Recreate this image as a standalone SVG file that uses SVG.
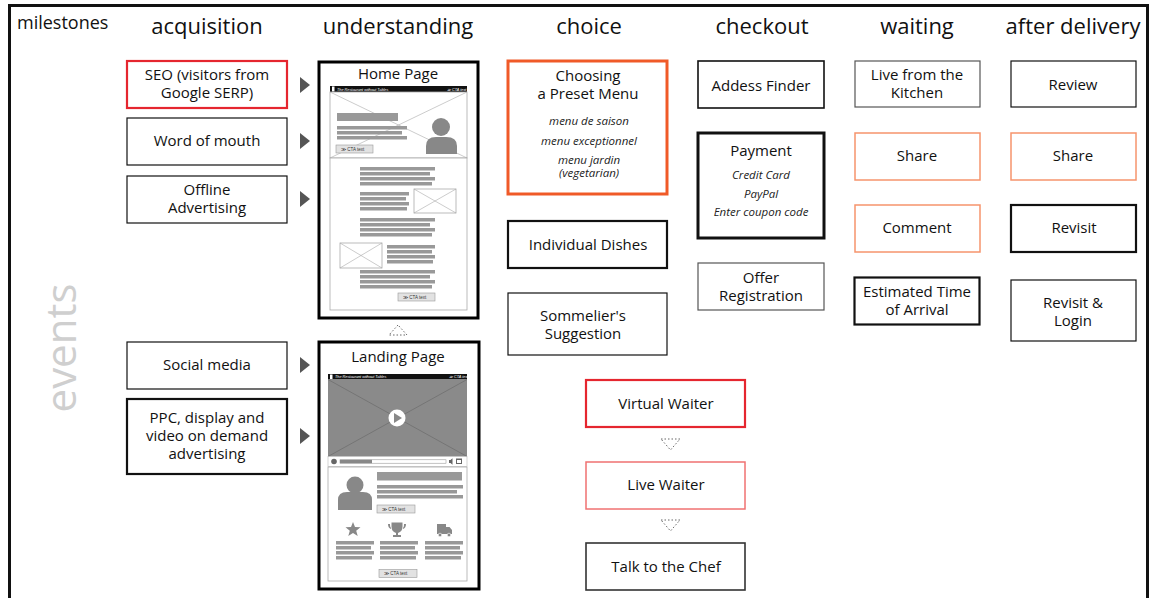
<svg xmlns="http://www.w3.org/2000/svg" width="1150" height="598" viewBox="0 0 1150 598">
  <defs>
    <style>
      text { font-family: "Open Sans", "Liberation Sans", sans-serif; fill: #111; }
      .t { font-size: 15px; text-anchor: middle; }
      .hd { font-size: 22px; text-anchor: middle; }
      .it { font-size: 11.5px; font-style: italic; text-anchor: middle; fill: #222; }
      .box { fill: #fff; stroke: #111; stroke-width: 1.2; }
      .thick { stroke-width: 2.2; }
      .frame { fill: #fff; stroke: #000; stroke-width: 3; }
      .red { stroke: #e5262f; stroke-width: 2.2; }
      .lred { stroke: #f07272; stroke-width: 1.5; }
      .orange { stroke: #f05a28; stroke-width: 3; }
      .lorange { stroke: #f6946c; stroke-width: 1.5; }
      .grey { stroke: #555; stroke-width: 1.2; }
      .arrow { fill: #555; }
      .bar { fill: #999; }
      .wf { fill: #fff; stroke: #aaa; stroke-width: 0.8; }
      .cross { stroke: #aaa; stroke-width: 0.6; }
      .cta { fill: #e2e2e2; stroke: #999; stroke-width: 0.6; }
      .ctat { font-size: 4.5px; fill: #333; font-family: "Liberation Sans", sans-serif; }
      .tiny { font-size: 3.8px; fill: #fff; font-family: "Liberation Sans", sans-serif; font-style: italic; }
      .ico { fill: #888; }
      .dtri { fill: none; stroke: #555; stroke-width: 0.9; stroke-dasharray: 1.5 2; }
    </style>
  </defs>

  <rect width="1150" height="598" fill="#fff"/>
  <!-- outer frame -->
  <rect x="9.5" y="5.5" width="1138" height="700" fill="none" stroke="#111" stroke-width="3"/>

  <!-- headers -->
  <g id="headers">
    <text x="17" y="29" style="font-size:18px">milestones</text>
    <text class="hd" x="207" y="34">acquisition</text>
    <text class="hd" x="398" y="34">understanding</text>
    <text class="hd" x="589" y="34">choice</text>
    <text class="hd" x="762" y="34">checkout</text>
    <text class="hd" x="917" y="34">waiting</text>
    <text class="hd" x="1073" y="34">after delivery</text>
    <text transform="translate(76 348) rotate(-90)" style="font-size:42px;fill:#cfcfcf;text-anchor:middle">events</text>
  </g>

  <!-- acquisition -->
  <g id="seo"><rect class="box red" x="127" y="61" width="160" height="47"/>
    <text class="t" x="207" y="80">SEO (visitors from</text><text class="t" x="207" y="98">Google SERP)</text></g>
  <g id="word-of-mouth"><rect class="box" x="127" y="118" width="160" height="47"/>
    <text class="t" x="207" y="146">Word of mouth</text></g>
  <g id="offline-advertising"><rect class="box" x="127" y="176" width="160" height="47"/>
    <text class="t" x="207" y="195">Offline</text><text class="t" x="207" y="213">Advertising</text></g>
  <g id="social-media"><rect class="box" x="127" y="342" width="160" height="47"/>
    <text class="t" x="207" y="370">Social media</text></g>
  <g id="ppc"><rect class="box thick" x="127" y="399" width="160" height="75"/>
    <text class="t" x="207" y="423">PPC, display and</text><text class="t" x="207" y="441">video on demand</text><text class="t" x="207" y="459">advertising</text></g>

  <!-- connectors -->
  <g id="connectors">
    <polygon class="arrow" points="300,77 310,85 300,93"/>
    <polygon class="arrow" points="300,133 310,141 300,149"/>
    <polygon class="arrow" points="300,191 310,199 300,207"/>
    <polygon class="arrow" points="300,357 310,365 300,373"/>
    <polygon class="arrow" points="300,428 310,436 300,444"/>
    <polygon class="dtri" points="398,325 389,335 407,335"/>
    <polygon class="dtri" points="661,439 680,439 670.5,450"/>
    <polygon class="dtri" points="661,520 680,520 670.5,531"/>
  </g>

  <!-- Home page wireframe -->
  <g id="home-page">
    <rect class="frame" x="319" y="62" width="159" height="256"/>
    <text class="t" x="398" y="79">Home Page</text>
    <rect x="330" y="86" width="137" height="6" fill="#111"/>
    <rect x="332" y="86.5" width="2.5" height="5" fill="#fff"/>
    <text class="tiny" x="337" y="90.5">The Restaurant without Tables</text>
    <text class="tiny" x="447" y="90.5">≫ CTA text</text>
    <rect class="wf" x="330" y="92" width="137" height="66"/>
    <line class="cross" x1="330" y1="92" x2="467" y2="158"/>
    <line class="cross" x1="330" y1="158" x2="467" y2="92"/>
    <rect class="bar" x="337" y="113" width="61" height="8"/>
    <rect class="bar" x="337" y="126" width="70" height="3.5"/>
    <rect class="bar" x="337" y="131" width="65" height="3.5"/>
    <rect class="bar" x="337" y="136" width="70" height="3.5"/>
    <rect class="cta" x="336" y="145" width="37" height="8"/>
    <text class="ctat" x="341" y="150.5">≫ CTA text</text>
    <circle class="ico" cx="441" cy="127" r="9"/>
    <path class="ico" d="M426 154 V146 Q426 137 436 137 H446 Q457 137 457 146 V154 Z"/>
    <rect class="wf" x="330" y="158" width="137" height="152"/>
    <rect class="bar" x="360" y="167" width="75" height="3.5"/>
    <rect class="bar" x="360" y="172" width="70" height="3.5"/>
    <rect class="bar" x="360" y="177" width="75" height="3.5"/>
    <rect class="bar" x="360" y="182" width="72" height="3.5"/>
    <rect class="bar" x="360" y="192" width="49" height="3.5"/>
    <rect class="bar" x="360" y="197" width="46" height="3.5"/>
    <rect class="bar" x="360" y="202" width="49" height="3.5"/>
    <rect class="bar" x="360" y="207" width="47" height="3.5"/>
    <rect class="wf" x="414" y="189" width="42" height="24"/>
    <line class="cross" x1="414" y1="189" x2="456" y2="213"/>
    <line class="cross" x1="414" y1="213" x2="456" y2="189"/>
    <rect class="bar" x="360" y="218" width="75" height="3.5"/>
    <rect class="bar" x="360" y="223" width="70" height="3.5"/>
    <rect class="bar" x="360" y="228" width="75" height="3.5"/>
    <rect class="bar" x="360" y="233" width="72" height="3.5"/>
    <rect class="wf" x="340" y="243" width="42" height="25"/>
    <line class="cross" x1="340" y1="243" x2="382" y2="268"/>
    <line class="cross" x1="340" y1="268" x2="382" y2="243"/>
    <rect class="bar" x="387" y="245" width="48" height="3.5"/>
    <rect class="bar" x="387" y="250" width="45" height="3.5"/>
    <rect class="bar" x="387" y="255" width="48" height="3.5"/>
    <rect class="bar" x="387" y="260" width="46" height="3.5"/>
    <rect class="bar" x="360" y="270" width="75" height="3.5"/>
    <rect class="bar" x="360" y="275" width="70" height="3.5"/>
    <rect class="bar" x="360" y="280" width="75" height="3.5"/>
    <rect class="bar" x="360" y="285" width="72" height="3.5"/>
    <rect class="cta" x="398" y="293" width="37" height="8"/>
    <text class="ctat" x="403" y="298.5">≫ CTA text</text>
  </g>

  <!-- Landing page wireframe -->
  <g id="landing-page">
    <rect class="frame" x="319" y="342" width="160" height="247"/>
    <text class="t" x="398" y="362">Landing Page</text>
    <rect x="328" y="374" width="139" height="5.5" fill="#111"/>
    <rect x="330" y="374.5" width="2.5" height="4.5" fill="#fff"/>
    <text class="tiny" x="335" y="378.3">The Restaurant without Tables</text>
    <text class="tiny" x="449" y="378.3">≫ CTA text</text>
    <rect x="328" y="379.5" width="139" height="77" fill="#8a8a8a"/>
    <line x1="328" y1="379.5" x2="467" y2="456.5" stroke="#666" stroke-width="0.6"/>
    <line x1="328" y1="456.5" x2="467" y2="379.5" stroke="#666" stroke-width="0.6"/>
    <circle cx="397" cy="418" r="8.5" fill="#fff"/>
    <polygon points="394,413 402,418 394,423" fill="#888"/>
    <rect x="328" y="456.5" width="139" height="10" fill="#fff" stroke="#aaa" stroke-width="0.5"/>
    <circle cx="334" cy="461.5" r="2.8" fill="#666"/>
    <rect x="340" y="459.8" width="106" height="3.4" fill="#fff" stroke="#888" stroke-width="0.5"/>
    <rect x="340" y="459.8" width="32" height="3.4" fill="#888"/>
    <path d="M449 460 h1.5 l2 -1.8 v6.6 l-2 -1.8 h-1.5 z" fill="#666"/>
    <rect x="456" y="458.5" width="6" height="5.5" fill="#666"/>
    <rect x="457" y="460" width="4" height="3" fill="#fff"/>
    <rect class="wf" x="328" y="467" width="139" height="114"/>
    <circle class="ico" cx="355" cy="485" r="8.5"/>
    <path class="ico" d="M338 510 V500 Q338 492 347 492 H363 Q372 492 372 500 V510 Z"/>
    <rect class="bar" x="377" y="472" width="85" height="8.5"/>
    <rect class="bar" x="377" y="485" width="86" height="3.5"/>
    <rect class="bar" x="377" y="490" width="80" height="3.5"/>
    <rect class="bar" x="377" y="495" width="86" height="3.5"/>
    <rect class="cta" x="377" y="505" width="38" height="8"/>
    <text class="ctat" x="382" y="510.5">≫ CTA text</text>
    <polygon class="ico" points="353,522 355,527 360.5,527.3 356.2,530.7 357.7,536 353,533 348.3,536 349.8,530.7 345.5,527.3 351,527"/>
    <path class="ico" d="M391.5 522.5 h11 v4 q0 5 -4.5 6.5 v2 h3 v2 h-8 v-2 h3 v-2 q-4.5 -1.5 -4.5 -6.5 z M390 524 h-2 q0 4 3 5 v-1 q-1 -1 -1 -3 z M404 524 h2 q0 4 -3 5 v-1 q1 -1 1 -3 z"/>
    <path class="ico" d="M437 524 h9 v10 h-9 z M446 527 h3.5 l2.5 3 v4 h-6 z"/>
    <circle cx="440" cy="535" r="1.8" fill="#888" stroke="#fff" stroke-width="0.6"/>
    <circle cx="449" cy="535" r="1.8" fill="#888" stroke="#fff" stroke-width="0.6"/>
    <rect class="bar" x="336" y="541" width="38" height="3.5"/>
    <rect class="bar" x="336" y="546" width="35" height="3.5"/>
    <rect class="bar" x="336" y="551" width="38" height="3.5"/>
    <rect class="bar" x="336" y="556" width="36" height="3.5"/>
    <rect class="bar" x="380" y="541" width="38" height="3.5"/>
    <rect class="bar" x="380" y="546" width="35" height="3.5"/>
    <rect class="bar" x="380" y="551" width="38" height="3.5"/>
    <rect class="bar" x="380" y="556" width="36" height="3.5"/>
    <rect class="bar" x="425" y="541" width="38" height="3.5"/>
    <rect class="bar" x="425" y="546" width="35" height="3.5"/>
    <rect class="bar" x="425" y="551" width="38" height="3.5"/>
    <rect class="bar" x="425" y="556" width="36" height="3.5"/>
    <rect class="cta" x="379" y="569.5" width="38" height="8"/>
    <text class="ctat" x="384" y="575">≫ CTA text</text>
  </g>

  <!-- choice -->
  <g id="preset-menu"><rect class="box orange" x="508" y="61" width="159" height="133"/>
    <text class="t" x="588" y="81">Choosing</text><text class="t" x="588" y="99">a Preset Menu</text>
    <text class="it" x="589" y="125">menu de saison</text>
    <text class="it" x="589" y="145">menu exceptionnel</text>
    <text class="it" x="589" y="164">menu jardin</text>
    <text class="it" x="589" y="177">(vegetarian)</text></g>
  <g id="individual-dishes"><rect class="box thick" x="508" y="221" width="159" height="47"/>
    <text class="t" x="588" y="250">Individual Dishes</text></g>
  <g id="sommelier"><rect class="box" x="508" y="293" width="159" height="62"/>
    <text class="t" x="583" y="321">Sommelier's</text><text class="t" x="583" y="339">Suggestion</text></g>
  <g id="virtual-waiter"><rect class="box red" x="586" y="380" width="159" height="47"/>
    <text class="t" x="666" y="409">Virtual Waiter</text></g>
  <g id="live-waiter"><rect class="box lred" x="586" y="462" width="159" height="47"/>
    <text class="t" x="666" y="490">Live Waiter</text></g>
  <g id="talk-to-chef"><rect class="box" style="stroke:#333;stroke-width:1.6" x="586" y="543" width="159" height="47"/>
    <text class="t" x="666" y="572">Talk to the Chef</text></g>

  <!-- checkout -->
  <g id="address-finder"><rect class="box" style="stroke-width:1.6" x="698" y="61" width="126" height="47"/>
    <text class="t" x="761" y="91">Addess Finder</text></g>
  <g id="payment"><rect class="box" style="stroke-width:3" x="698" y="133" width="126" height="105"/>
    <text class="t" x="761" y="156">Payment</text>
    <text class="it" x="761" y="179">Credit Card</text>
    <text class="it" x="761" y="198">PayPal</text>
    <text class="it" x="761" y="216">Enter coupon code</text></g>
  <g id="offer-registration"><rect class="box grey" x="698" y="263" width="126" height="47"/>
    <text class="t" x="761" y="283">Offer</text><text class="t" x="761" y="301">Registration</text></g>

  <!-- waiting -->
  <g id="live-kitchen"><rect class="box grey" x="855" y="61" width="125" height="46"/>
    <text class="t" x="917" y="80">Live from the</text><text class="t" x="917" y="98">Kitchen</text></g>
  <g id="share-waiting"><rect class="box lorange" x="855" y="133" width="125" height="47"/>
    <text class="t" x="917" y="161">Share</text></g>
  <g id="comment"><rect class="box lorange" x="855" y="205" width="125" height="47"/>
    <text class="t" x="917" y="233">Comment</text></g>
  <g id="eta"><rect class="box thick" x="854.5" y="277.5" width="125" height="47"/>
    <text class="t" x="917" y="297">Estimated Time</text><text class="t" x="917" y="315">of Arrival</text></g>

  <!-- after delivery -->
  <g id="review"><rect class="box" x="1011" y="61" width="125" height="46"/>
    <text class="t" x="1073" y="90">Review</text></g>
  <g id="share-after"><rect class="box lorange" x="1011" y="133" width="125" height="47"/>
    <text class="t" x="1073" y="161">Share</text></g>
  <g id="revisit"><rect class="box thick" x="1011" y="205" width="125" height="47"/>
    <text class="t" x="1074" y="233">Revisit</text></g>
  <g id="revisit-login"><rect class="box" x="1011" y="280" width="125" height="61"/>
    <text class="t" x="1073" y="308">Revisit &amp;</text><text class="t" x="1073" y="326">Login</text></g>
</svg>
